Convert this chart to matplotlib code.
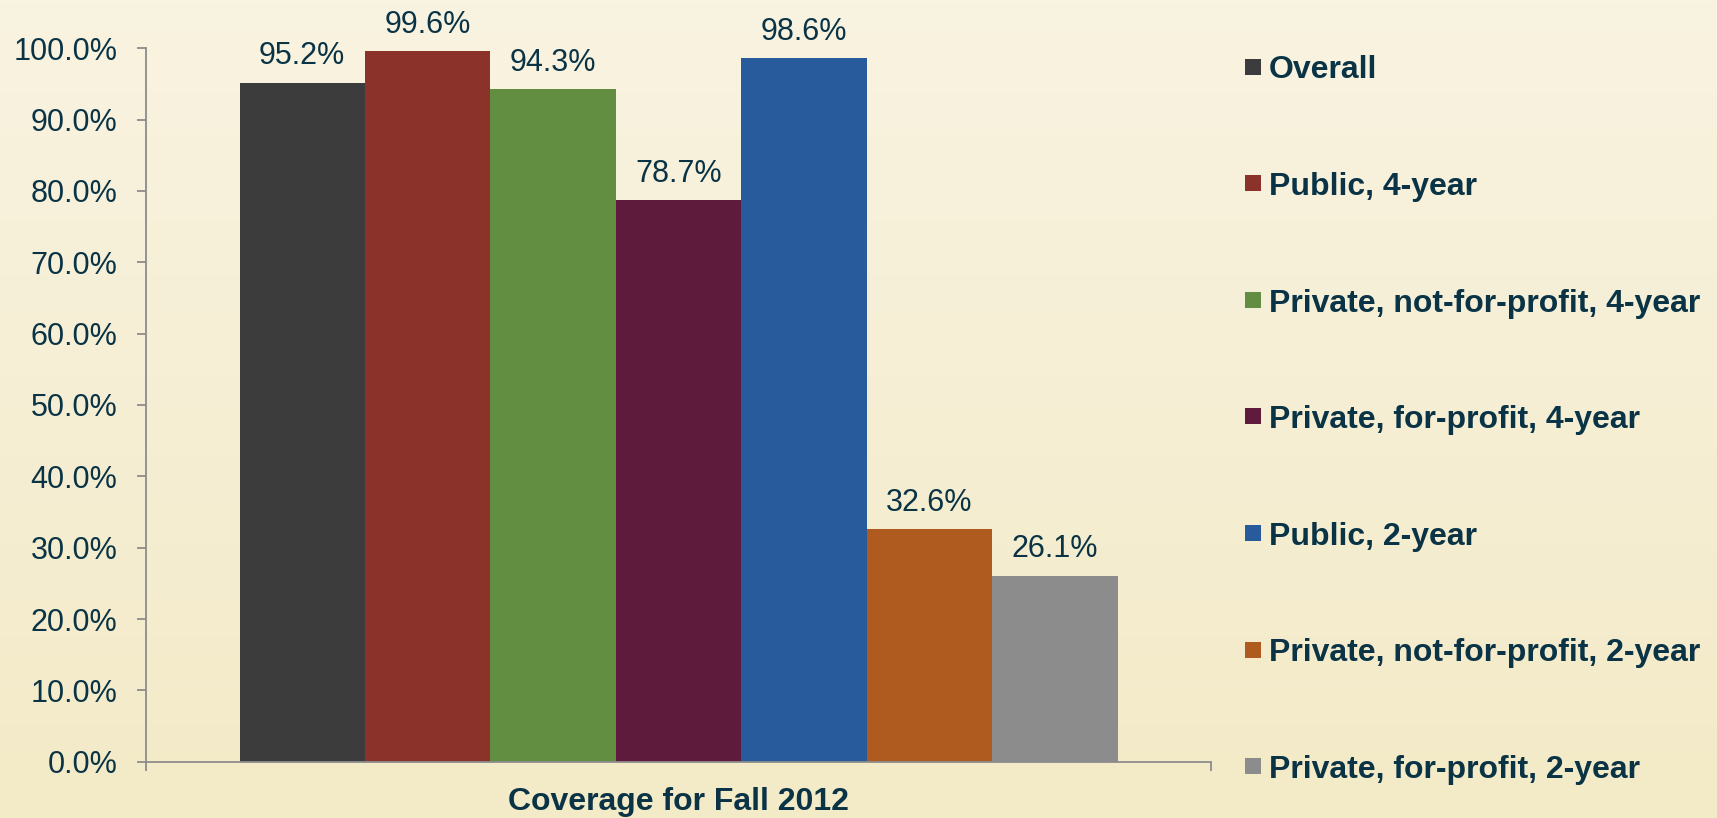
import matplotlib
matplotlib.use("Agg")
import matplotlib.pyplot as plt
import numpy as np
from matplotlib.patches import Rectangle
from matplotlib.ticker import FuncFormatter, FixedLocator

categories = ["Overall", "Public, 4-year", "Private, not-for-profit, 4-year",
              "Private, for-profit, 4-year", "Public, 2-year",
              "Private, not-for-profit, 2-year", "Private, for-profit, 2-year"]
values = [95.2, 99.6, 94.3, 78.7, 98.6, 32.6, 26.1]
colors = ["#3C3C3C", "#8B322B", "#618E40", "#5E1B3C", "#285B9B", "#AF5A1F", "#8C8C8C"]
group_label = "Coverage for Fall 2012"
yticks = [0, 10, 20, 30, 40, 50, 60, 70, 80, 90, 100]

W, H = 1717, 818
TXT = "#0A3446"
AX = "#8C8C8C"
plt.rcParams['font.family'] = ['Liberation Sans', 'DejaVu Sans']

fig = plt.figure(figsize=(W / 100, H / 100), dpi=100)

# background gradient
bg = fig.add_axes([0, 0, 1, 1], zorder=-10)
top = np.array([249, 243, 225]) / 255
bot = np.array([243, 234, 199]) / 255
t = np.linspace(0, 1, 256)[:, None]
grad = top[None, :] * (1 - t) + bot[None, :] * t
bg.imshow(grad[:, None, :], aspect='auto', extent=[0, 1, 0, 1])
bg.axis('off')

left, right = 146 / W, 1211 / W
bottom, topp = (H - 761.7) / H, (H - 48.3) / H
ax = fig.add_axes([left, bottom, right - left, topp - bottom])
ax.set_facecolor('none')

n = len(values)
group_w = 878 / 1065
w = group_w / n
xs = (np.arange(n) - (n - 1) / 2) * w
ax.bar(xs, values, width=w, color=colors, linewidth=0)

for x, v in zip(xs, values):
    ax.annotate(f"{v:.1f}%", xy=(x, v), xytext=(0, 13), textcoords='offset points',
                ha='center', va='baseline', fontsize=22, color=TXT)

ax.set_xlim(-0.5, 0.5)
ax.set_ylim(0, 100)
ax.yaxis.set_major_locator(FixedLocator(yticks))
ax.yaxis.set_major_formatter(FuncFormatter(lambda v, p: f"{v:.1f}%"))
ax.xaxis.set_major_locator(FixedLocator([-0.5, 0.5]))
ax.set_xticklabels(["", ""])

for s in ['top', 'right']:
    ax.spines[s].set_visible(False)
for s in ['left', 'bottom']:
    ax.spines[s].set_color(AX)
    ax.spines[s].set_linewidth(1.3)
ax.tick_params(axis='y', direction='out', length=6.5, width=1.3, color=AX,
               labelsize=22, labelcolor=TXT, pad=14)
ax.tick_params(axis='x', direction='out', length=6.5, width=1.3, color=AX)

fig.text(678.5 / W, (H - 810) / H, group_label, ha='center', va='baseline',
         fontsize=23, fontweight='bold', color=TXT)

# legend
for i, (lab, c) in enumerate(zip(categories, colors)):
    yc = 66.7 + i * 116.6
    fig.add_artist(Rectangle((1245 / W, (H - yc - 8) / H), 16 / W, 16 / H,
                             transform=fig.transFigure, facecolor=c, edgecolor='none'))
    fig.text(1269 / W, (H - yc - 11.7) / H, lab, ha='left', va='baseline',
             fontsize=23, fontweight='bold', color=TXT)

fig.savefig("out.png", dpi=100)
